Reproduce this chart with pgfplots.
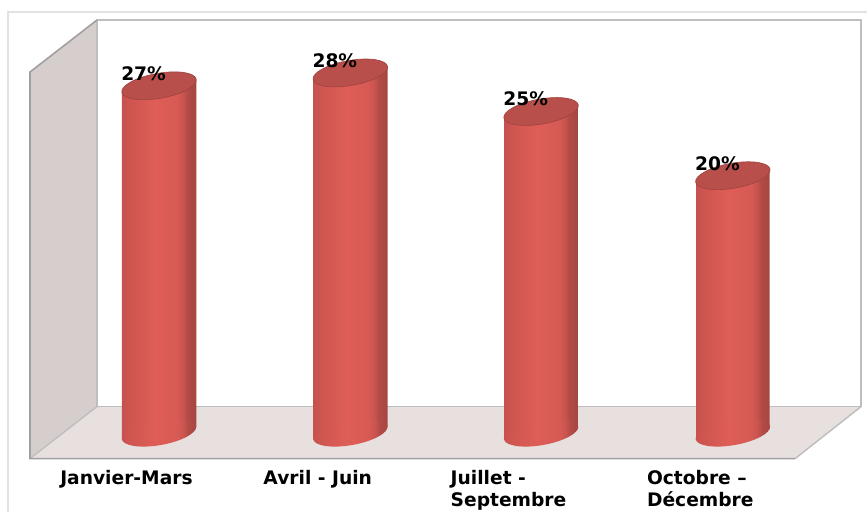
\documentclass[border=0pt]{standalone}
\usepackage{fontspec}
\setmainfont{DejaVu Sans}
\usepackage{pgfplots}
\pgfplotsset{compat=1.18}
\definecolor{cA}{RGB}{198,81,78}
\definecolor{cB}{RGB}{206,85,80}
\definecolor{cC}{RGB}{223,93,87}
\definecolor{cD}{RGB}{215,90,84}
\definecolor{cE}{RGB}{202,84,79}
\definecolor{cF}{RGB}{178,75,70}
\definecolor{cG}{RGB}{165,70,66}
\definecolor{capfill}{RGB}{184,79,74}
\definecolor{capline}{RGB}{160,68,64}
\definecolor{wallc}{RGB}{214,205,205}
\definecolor{floorc}{RGB}{232,223,223}
\definecolor{framec}{RGB}{226,226,226}
\definecolor{edgec}{RGB}{190,190,190}
\definecolor{edged}{RGB}{160,160,160}
% cylinder body, left to right
\pgfdeclarehorizontalshading{cyl}{100bp}{color(0bp)=(cA); color(25bp)=(cA); color(30bp)=(cB);
  color(47bp)=(cC); color(62bp)=(cD); color(66bp)=(cE); color(69bp)=(cF); color(75bp)=(cG); color(100bp)=(cG)}
% tilted ellipses: 1px = 0.75pt
\pgfdeclareplotmark{captop}{%
  \pgfpathellipse{\pgfpointorigin}{\pgfqpoint{27.92pt}{4.92pt}}{\pgfqpoint{-1.63pt}{9.23pt}}%
  \pgfusepathqfillstroke}
\pgfdeclareplotmark{capbottom}{%
  \pgfpathellipse{\pgfpointorigin}{\pgfqpoint{27.92pt}{4.92pt}}{\pgfqpoint{-1.63pt}{9.23pt}}%
  \pgfshadepath{cyl}{0}\pgfusepath{discard}}
\pgfplotsset{
  page/.style={width=651pt, height=384pt, scale only axis, xmin=0, xmax=868},
  body/.style={shade, shading=cyl, draw=none, forget plot},
}
\begin{document}
\begin{tikzpicture}
% frame, walls and floor, in pixels of the picture
\begin{axis}[page, hide axis, ymin=0, ymax=512, y dir=reverse, clip=false]
  \addplot[draw=framec, line width=1.5pt] coordinates {(8.5,512) (8.5,11.5) (868,11.5)};
  \addplot[fill=wallc, draw=none] coordinates {(30,72) (97,20) (97,407) (30,459)} -- cycle;
  \addplot[fill=floorc, draw=none] coordinates {(30,459) (97,407) (862,407) (796,459)} -- cycle;
  \addplot[draw=edgec, line width=1.1pt] coordinates {(97,407) (97,20) (862,20) (862,407) (97,407)};
  \addplot[draw=edgec, line width=1pt] coordinates {(30,459) (97,407)};
  \addplot[draw=edgec, line width=1.1pt] coordinates {(862,407) (796,459)};
  \addplot[draw=edged, line width=1.2pt] coordinates {(97,20) (30,72) (30,459) (796,459)};
\end{axis}
% data: y in percent
\begin{axis}[page, ymin=-6.14, ymax=33.67, clip=false,
    axis line style={draw=none}, major tick length=0pt, ytick=\empty,
    xtick={159,350.5,541.5,733.5},
    xticklabels={{Janvier-Mars},{Avril - Juin},{Juillet -\\Septembre},{Octobre –\\Décembre}},
    xticklabel style={align=left, anchor=north, xshift=-24.3pt, yshift=34.8pt,
      font=\bfseries\fontsize{14}{16.5}\selectfont},
    /pgf/number format/assume math mode=true,
  ]
  \addplot[body] coordinates {(122,-0.45) (196.5,0.45) (196.5,27.45) (122,26.55)} -- cycle;
  \addplot[body] coordinates {(313.5,-0.45) (388,0.45) (388,28.45) (313.5,27.55)} -- cycle;
  \addplot[body] coordinates {(505,-0.45) (578.5,0.45) (578.5,25.45) (505,24.55)} -- cycle;
  \addplot[body] coordinates {(697,-0.45) (770.5,0.45) (770.5,20.45) (697,19.55)} -- cycle;
  \addplot[only marks, mark=capbottom, forget plot] coordinates {(159.2,0) (350.7,0) (541.7,0) (733.7,0)};
  \addplot[only marks, mark=captop, mark options={fill=capfill, draw=capline, line width=0.5pt},
    nodes near coords={\pgfmathprintnumber{\pgfplotspointmeta}\%},
    every node near coord/.append style={anchor=center, xshift=-11.6pt, yshift=9.4pt,
      font=\bfseries\fontsize{14}{16.5}\selectfont, text=black},
  ] coordinates {(159.2,27) (350.7,28) (541.7,25) (733.7,20)};
\end{axis}
\end{tikzpicture}
\end{document}
